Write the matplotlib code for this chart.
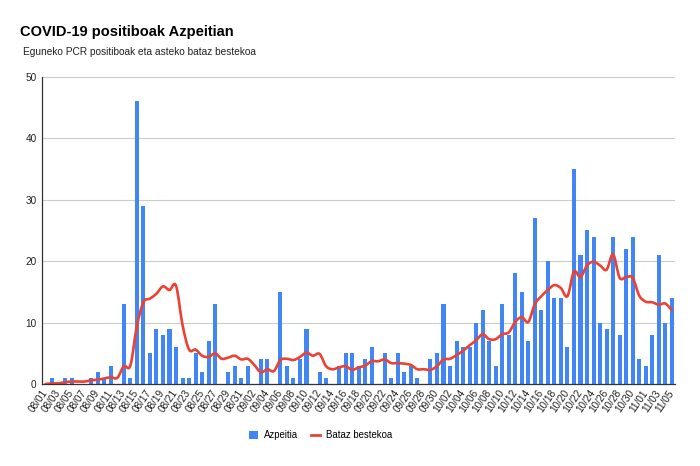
import numpy as np
import matplotlib.pyplot as plt
import pandas as pd
from matplotlib.path import Path
from matplotlib.patches import PathPatch, Patch
from matplotlib.lines import Line2D

plt.rcParams['font.family'] = ['Liberation Sans', 'DejaVu Sans']

#------------------------------------------------------------------------------------
# Data (08/01 - 11/05)
days = pd.date_range('2020-08-01', '2020-11-05', freq='D')
day_labels = [d.strftime('%m/%d') for d in days]

positives = [0, 1, 0, 1, 1, 0, 0, 1, 2, 1, 3, 0, 13, 1, 46, 29, 5, 9, 8, 9, 6, 1, 1, 5, 2, 7, 13, 0, 2, 3, 1,
             3, 0, 4, 4, 0, 15, 3, 1, 4, 9, 0, 2, 1, 0, 3, 5, 5, 3, 4, 6, 0, 5, 1, 5, 2, 3, 1, 0, 4, 5,
             13, 3, 7, 6, 6, 10, 12, 7, 3, 13, 8, 18, 15, 7, 27, 12, 20, 14, 14, 6, 35, 21, 25, 24, 10, 9, 24, 8, 22, 24, 4,
             3, 8, 21, 10, 14]

weekly_avg = [0.0, 0.1, 0.1, 0.3, 0.4, 0.4, 0.4, 0.6, 0.7, 0.9, 1.1, 1.0, 2.9, 3.0, 9.4, 13.3, 13.9, 14.7, 15.9, 15.3,
              16.0, 9.6, 5.6, 5.6, 4.6, 4.4, 5.0, 4.1, 4.3, 4.6, 4.0,
              4.1, 3.1, 1.9, 2.4, 2.1, 3.9, 4.1, 3.9, 4.4, 5.1, 4.6, 4.9, 2.9, 2.4, 2.7, 2.9, 2.3, 2.7, 3.0, 3.7,
              3.7, 4.0, 3.4, 3.4, 3.3, 3.1, 2.4, 2.4, 2.3, 2.9,
              4.0, 4.1, 4.7, 5.4, 6.3, 7.1, 8.1, 7.3, 7.3, 8.1, 8.4, 10.1, 10.9, 10.1, 13.0, 14.3, 15.3, 16.1, 15.6, 14.3,
              18.3, 17.4, 19.3, 19.9, 19.3, 18.6, 21.1, 17.3, 17.4, 17.3, 14.4,
              13.4, 13.3, 12.9, 13.1, 12.0]

bar_color = '#4285F4'
line_color = '#EA4335'

#------------------------------------------------------------------------------------
fig = plt.figure(figsize=(7, 4.66), dpi=100)
ax = fig.add_axes([0.0604, 0.176, 0.904, 0.659])

x = np.arange(len(positives))
ax.bar(x, positives, width=0.62, color=bar_color, zorder=2)

# smooth curve through the averages (catmull-rom as bezier segments)
pts = np.column_stack([x, weekly_avg]).astype(float)
verts = [pts[0]]
codes = [Path.MOVETO]
for i in range(len(pts) - 1):
    p0 = pts[max(i - 1, 0)]
    p1 = pts[i]
    p2 = pts[i + 1]
    p3 = pts[min(i + 2, len(pts) - 1)]
    verts += [p1 + (p2 - p0) / 6.0, p2 - (p3 - p1) / 6.0, p2]
    codes += [Path.CURVE4] * 3
ax.add_patch(PathPatch(Path(verts, codes), fill=False, edgecolor=line_color, lw=1.9,
                       capstyle='round', joinstyle='round', zorder=3))

ax.set_xlim(-0.5, len(positives) - 0.5)
ax.set_ylim(0, 50)
ax.set_yticks([0, 10, 20, 30, 40, 50])
ax.set_xticks(x[::2])
ax.set_xticklabels(day_labels[::2], rotation=55, ha='right', va='center',
                   rotation_mode='anchor', fontsize=7.2, color='#222222')
ax.tick_params(axis='x', length=0, pad=5)
ax.tick_params(axis='y', length=0, pad=4, labelsize=7.2, labelcolor='#222222')
ax.grid(True, axis='y', color='#cccccc', lw=0.8, zorder=0)
for s in ('top', 'right'):
    ax.spines[s].set_visible(False)
ax.spines['left'].set_color('#333333')
ax.spines['bottom'].set_color('#333333')
ax.spines['left'].set_linewidth(0.9)
ax.spines['bottom'].set_linewidth(0.9)
ax.spines['bottom'].set_zorder(4)

fig.text(0.029, 0.931, 'COVID-19 positiboak Azpeitian', fontsize=10.5, fontweight='bold',
         color='#000000', va='center')
fig.text(0.033, 0.889, 'Eguneko PCR positiboak eta asteko bataz bestekoa', fontsize=7.3,
         color='#222222', va='center')

handles = [Patch(facecolor=bar_color, edgecolor='none'),
           Line2D([0], [0], color=line_color, lw=2)]
fig.legend(handles, ['Azpeitia', 'Bataz bestekoa'], loc='center', bbox_to_anchor=(0.458, 0.066),
           ncol=2, frameon=False, fontsize=6.9, handlelength=0.9, handleheight=0.9,
           columnspacing=1.4, handletextpad=0.6)

fig.savefig('out.png', dpi=100)
